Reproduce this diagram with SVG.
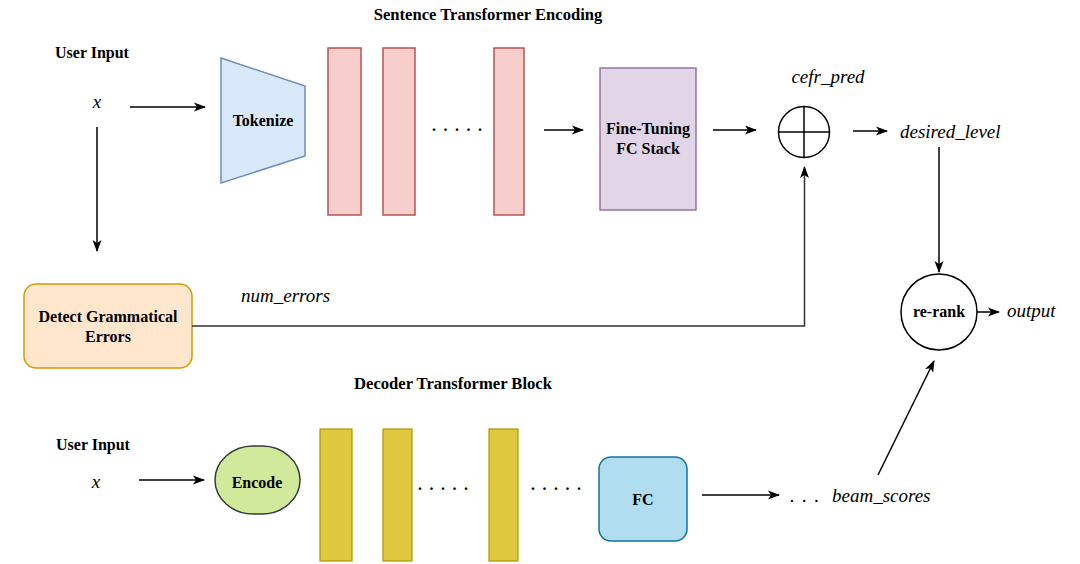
<svg xmlns="http://www.w3.org/2000/svg" width="1080" height="564" viewBox="0 0 1080 564">
<style>
.b{font-family:'Liberation Serif','Times New Roman',serif;font-weight:bold;font-size:16px;fill:#000}
.i{font-family:'Liberation Serif','Times New Roman',serif;font-style:italic;font-size:19px;fill:#000}
.t{font-size:16.6px}
.c{text-anchor:middle}
.pink{fill:#f8cecc;stroke:#b85450;stroke-width:1.5}
.yel{fill:#dfc83e;stroke:#b09500;stroke-width:1.2}
.ln{fill:none;stroke:#000;stroke-width:1.5}
</style>
<defs>
<marker id="ah" markerUnits="userSpaceOnUse" markerWidth="12" markerHeight="10" viewBox="0 0 12 10" refX="11" refY="5" orient="auto">
<path d="M0,0.5 L12,5 L0,9.5 L3,5 z" fill="#000"/>
</marker>
</defs>
<rect width="1080" height="564" fill="#fff"/>

<g id="titles">
<text class="b c t" x="488" y="20">Sentence Transformer Encoding</text>
<text class="b c t" x="453" y="389">Decoder Transformer Block</text>
</g>

<g id="input-top">
<text class="b" x="55" y="58">User Input</text>
<text class="i c" x="97" y="108">x</text>
</g>

<g id="tokenize">
<polygon points="221,58 305,86 305,156 221,183" fill="#dae8fc" stroke="#6c8ebf" stroke-width="1.5"/>
<text class="b c" x="263" y="126">Tokenize</text>
</g>

<g id="encoder-layers">
<rect class="pink" x="328" y="48" width="33" height="167"/>
<rect class="pink" x="383" y="48" width="32" height="167"/>
<rect class="pink" x="494" y="48" width="30" height="167"/>
<text class="b" x="432" y="131" letter-spacing="7.5">.....</text>
</g>

<g id="fine-tuning">
<rect x="600" y="68" width="96" height="142" fill="#e1d5e7" stroke="#9673a6" stroke-width="1.5"/>
<text class="b c" x="648" y="134">Fine-Tuning</text>
<text class="b c" x="648" y="154">FC Stack</text>
</g>

<g id="sum">
<circle cx="804" cy="132" r="25.5" fill="#fff" stroke="#000" stroke-width="1.5"/>
<path d="M778.5,132 H829.5 M804,106.5 V157.5" stroke="#000" stroke-width="1.5"/>
<text class="i c" x="828" y="83">cefr_pred</text>
</g>

<g id="desired-level">
<text class="i" x="900" y="138">desired_level</text>
</g>

<g id="detect">
<rect x="24" y="284" width="168" height="84" rx="12" fill="#ffe6cc" stroke="#d79b00" stroke-width="1.5"/>
<text class="b c" x="108" y="322">Detect Grammatical</text>
<text class="b c" x="108" y="342">Errors</text>
</g>

<g id="num-errors">
<text class="i" x="241" y="302">num_errors</text>
</g>

<g id="rerank">
<circle cx="939" cy="312" r="38" fill="#fff" stroke="#000" stroke-width="1.5"/>
<text class="b c" x="939" y="317">re-rank</text>
</g>

<g id="output">
<text class="i" x="1007" y="317">output</text>
</g>

<g id="input-bottom">
<text class="b" x="56" y="450">User Input</text>
<text class="i c" x="96" y="488">x</text>
</g>

<g id="encode">
<rect x="215" y="446" width="85" height="68" rx="38" ry="34" fill="#d1e99a" stroke="#36393d" stroke-width="1.5"/>
<text class="b c" x="257" y="488">Encode</text>
</g>

<g id="decoder-layers">
<rect class="yel" x="320" y="429" width="32" height="132"/>
<rect class="yel" x="383" y="429" width="29" height="132"/>
<rect class="yel" x="489" y="429" width="29" height="132"/>
<text class="b" x="418" y="490" letter-spacing="7.5">.....</text>
<text class="b" x="531" y="490" letter-spacing="7.5">.....</text>
</g>

<g id="fc">
<rect x="599" y="457" width="88" height="84" rx="12" fill="#b1ddf0" stroke="#10739e" stroke-width="1.5"/>
<text class="b c" x="643" y="505">FC</text>
</g>

<g id="beam-scores">
<text class="i" x="790" y="502" letter-spacing="7.5">...</text>
<text class="i" x="832" y="502">beam_scores</text>
</g>

<g id="connectors">
<line class="ln" x1="130" y1="107" x2="205" y2="107" marker-end="url(#ah)"/>
<line class="ln" x1="97" y1="127" x2="97" y2="251" marker-end="url(#ah)"/>
<line class="ln" x1="544" y1="130" x2="583" y2="130" marker-end="url(#ah)"/>
<line class="ln" x1="713" y1="130" x2="756" y2="130" marker-end="url(#ah)"/>
<line class="ln" x1="853" y1="131" x2="887" y2="131" marker-end="url(#ah)"/>
<line class="ln" x1="939" y1="147" x2="939" y2="272" marker-end="url(#ah)"/>
<line class="ln" x1="977" y1="312" x2="999" y2="312" marker-end="url(#ah)"/>
<path d="M192,326 H804.5 V167" fill="none" stroke="#333" stroke-width="1.5" marker-end="url(#ah)"/>
<line class="ln" x1="139" y1="480" x2="204" y2="480" marker-end="url(#ah)"/>
<line class="ln" x1="702" y1="495" x2="779" y2="495" marker-end="url(#ah)"/>
<line class="ln" x1="878" y1="475" x2="934" y2="361" marker-end="url(#ah)"/>
</g>
</svg>
